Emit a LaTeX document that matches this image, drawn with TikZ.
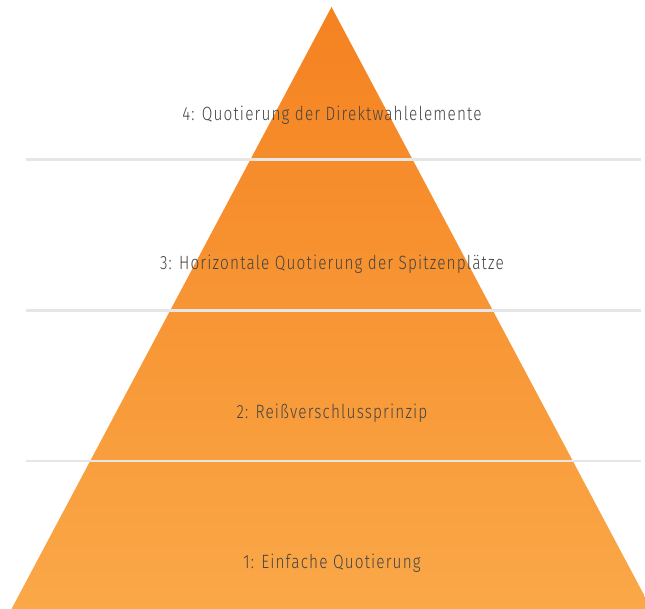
\documentclass[tikz,border=0pt]{standalone}
\usepackage{fontspec}
\setmainfont{Fira Sans}[UprightFont=* Light, FakeStretch=0.8, LetterSpace=6]
\definecolor{otop}{RGB}{245,130,32}
\definecolor{obot}{RGB}{250,168,72}
\definecolor{sep}{RGB}{230,230,230}
\definecolor{txt}{RGB}{68,68,68}
\begin{document}
\begin{tikzpicture}[x=1pt,y=-1pt,
  lvl/.style={text=txt,font=\fontsize{19.2}{21}\selectfont,anchor=center,inner sep=0pt},
  sepline/.style={draw=sep,line width=2.4pt}]
\useasboundingbox (0,0) rectangle (645,609);
\clip (0,0) rectangle (645,609);
\shade[top color=otop,bottom color=obot] (331.5,7) -- (651.5,609) -- (11.5,609) -- cycle;
\coordinate (a1) at (26,159.5); \coordinate (b1) at (641,159.5);
\coordinate (a2) at (26,310.5); \coordinate (b2) at (641,310.5);
\coordinate (a3) at (26,461); \coordinate (b3) at (641,461);
\draw[sepline] (a1) -- (b1);
\draw[sepline] (a2) -- (b2);
\draw[sepline] (a3) -- (b3);
\node[lvl] (l4) at (332,115.5) {4: Quotierung der Direktwahlelemente};
\node[lvl] (l3) at (332,264.5) {3: Horizontale Quotierung der Spitzenplätze};
\node[lvl] (l2) at (332,413.5) {2: Reißverschlussprinzip};
\node[lvl] (l1) at (332,563.5) {1: Einfache Quotierung};
\end{tikzpicture}
\end{document}
